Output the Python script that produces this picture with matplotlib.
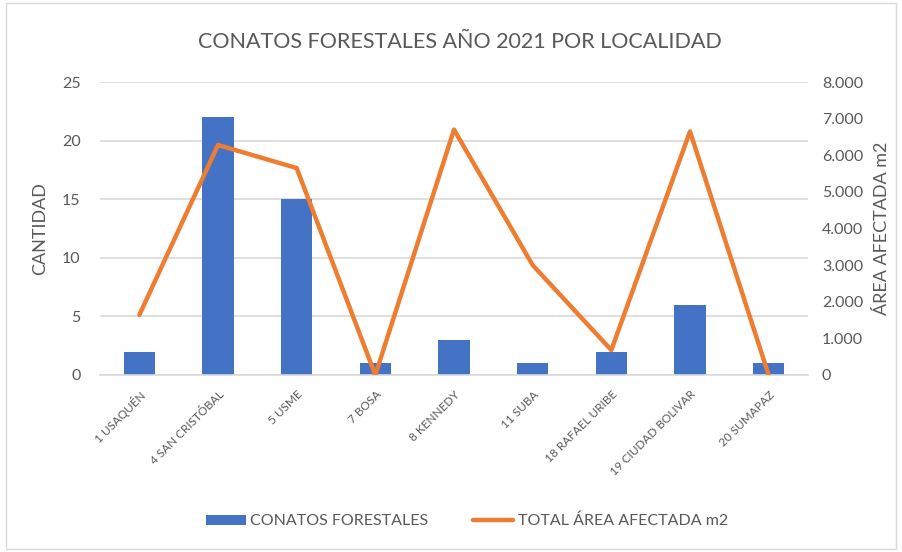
import numpy as np
import matplotlib.pyplot as plt
from matplotlib.patches import Rectangle

plt.rcParams['font.family'] = ['Lato', 'DejaVu Sans']

localidades = ['1 USAQUÉN', '4 SAN CRISTÓBAL', '5 USME', '7 BOSA', '8 KENNEDY',
               '11 SUBA', '18 RAFAEL URIBE', '19 CIUDAD BOLIVAR', '20 SUMAPAZ']
conatos = [2, 22, 15, 1, 3, 1, 2, 6, 1]
area_m2 = [1640, 6280, 5650, 0, 6700, 3000, 680, 6650, 0]

BLUE = '#4472C4'
ORANGE = '#ED7D31'
GRAY = '#595959'
GRID = '#D9D9D9'

fig = plt.figure(figsize=(9.02, 5.52), dpi=100)
ax = fig.add_axes([100/902, 1-375/552, 708/902, 293/552])
ax2 = ax.twinx()

x = np.arange(len(localidades))
ax.bar(x, conatos, width=0.4, color=BLUE, zorder=2, label='CONATOS FORESTALES')
ax2.plot(x, area_m2, color=ORANGE, lw=3.2, solid_capstyle='round', zorder=3,
         label='TOTAL ÁREA AFECTADA m2')

ax.set_xlim(-0.5, len(localidades) - 0.5)
ax.set_ylim(0, 25)
ax.set_yticks(range(0, 26, 5))
ax2.set_ylim(0, 8000)
ax2.set_yticks(range(0, 8001, 1000))
ax2.set_yticklabels(['0'] + [f'{v//1000}.000' for v in range(1000, 8001, 1000)])

ax.yaxis.grid(True, color=GRID, lw=1.2, zorder=0)
ax.set_axisbelow(True)
for a in (ax, ax2):
    for s in a.spines.values():
        s.set_visible(False)
    a.tick_params(length=0, colors=GRAY, labelsize=11.5)
ax.spines['bottom'].set_visible(True)
ax.spines['bottom'].set_color(GRID)
ax.spines['bottom'].set_linewidth(1.2)

ax.set_xticks(x)
ax.set_xticklabels(localidades, rotation=45, ha='right', rotation_mode='anchor',
                   fontsize=8.5, color=GRAY)
ax.tick_params(axis='x', pad=10)
ax.tick_params(axis='y', pad=14)
ax2.tick_params(axis='y', pad=10)

ax.set_ylabel('CANTIDAD', color=GRAY, fontsize=13, labelpad=10)
ax2.set_ylabel('ÁREA AFECTADA m2', color=GRAY, fontsize=13, labelpad=8)

fig.text(460/902, 1-42/552, 'CONATOS FORESTALES AÑO 2021 POR LOCALIDAD',
         ha='center', va='center', fontsize=15.5, color=GRAY)

h1, l1 = ax.get_legend_handles_labels()
h2, l2 = ax2.get_legend_handles_labels()
fig.legend(h1 + h2, l1 + l2, loc='center', bbox_to_anchor=(467/902, 1-521/552),
           ncol=2, frameon=False, fontsize=11.5, labelcolor=GRAY,
           handlelength=2.5, handleheight=0.6, columnspacing=2.8, handletextpad=0.3)

fig.patches.append(Rectangle((6/902, 0.005), 890/902, 0.99, transform=fig.transFigure,
                             fill=False, edgecolor='#D9D9D9', lw=1))

fig.savefig('out.png', dpi=100)
